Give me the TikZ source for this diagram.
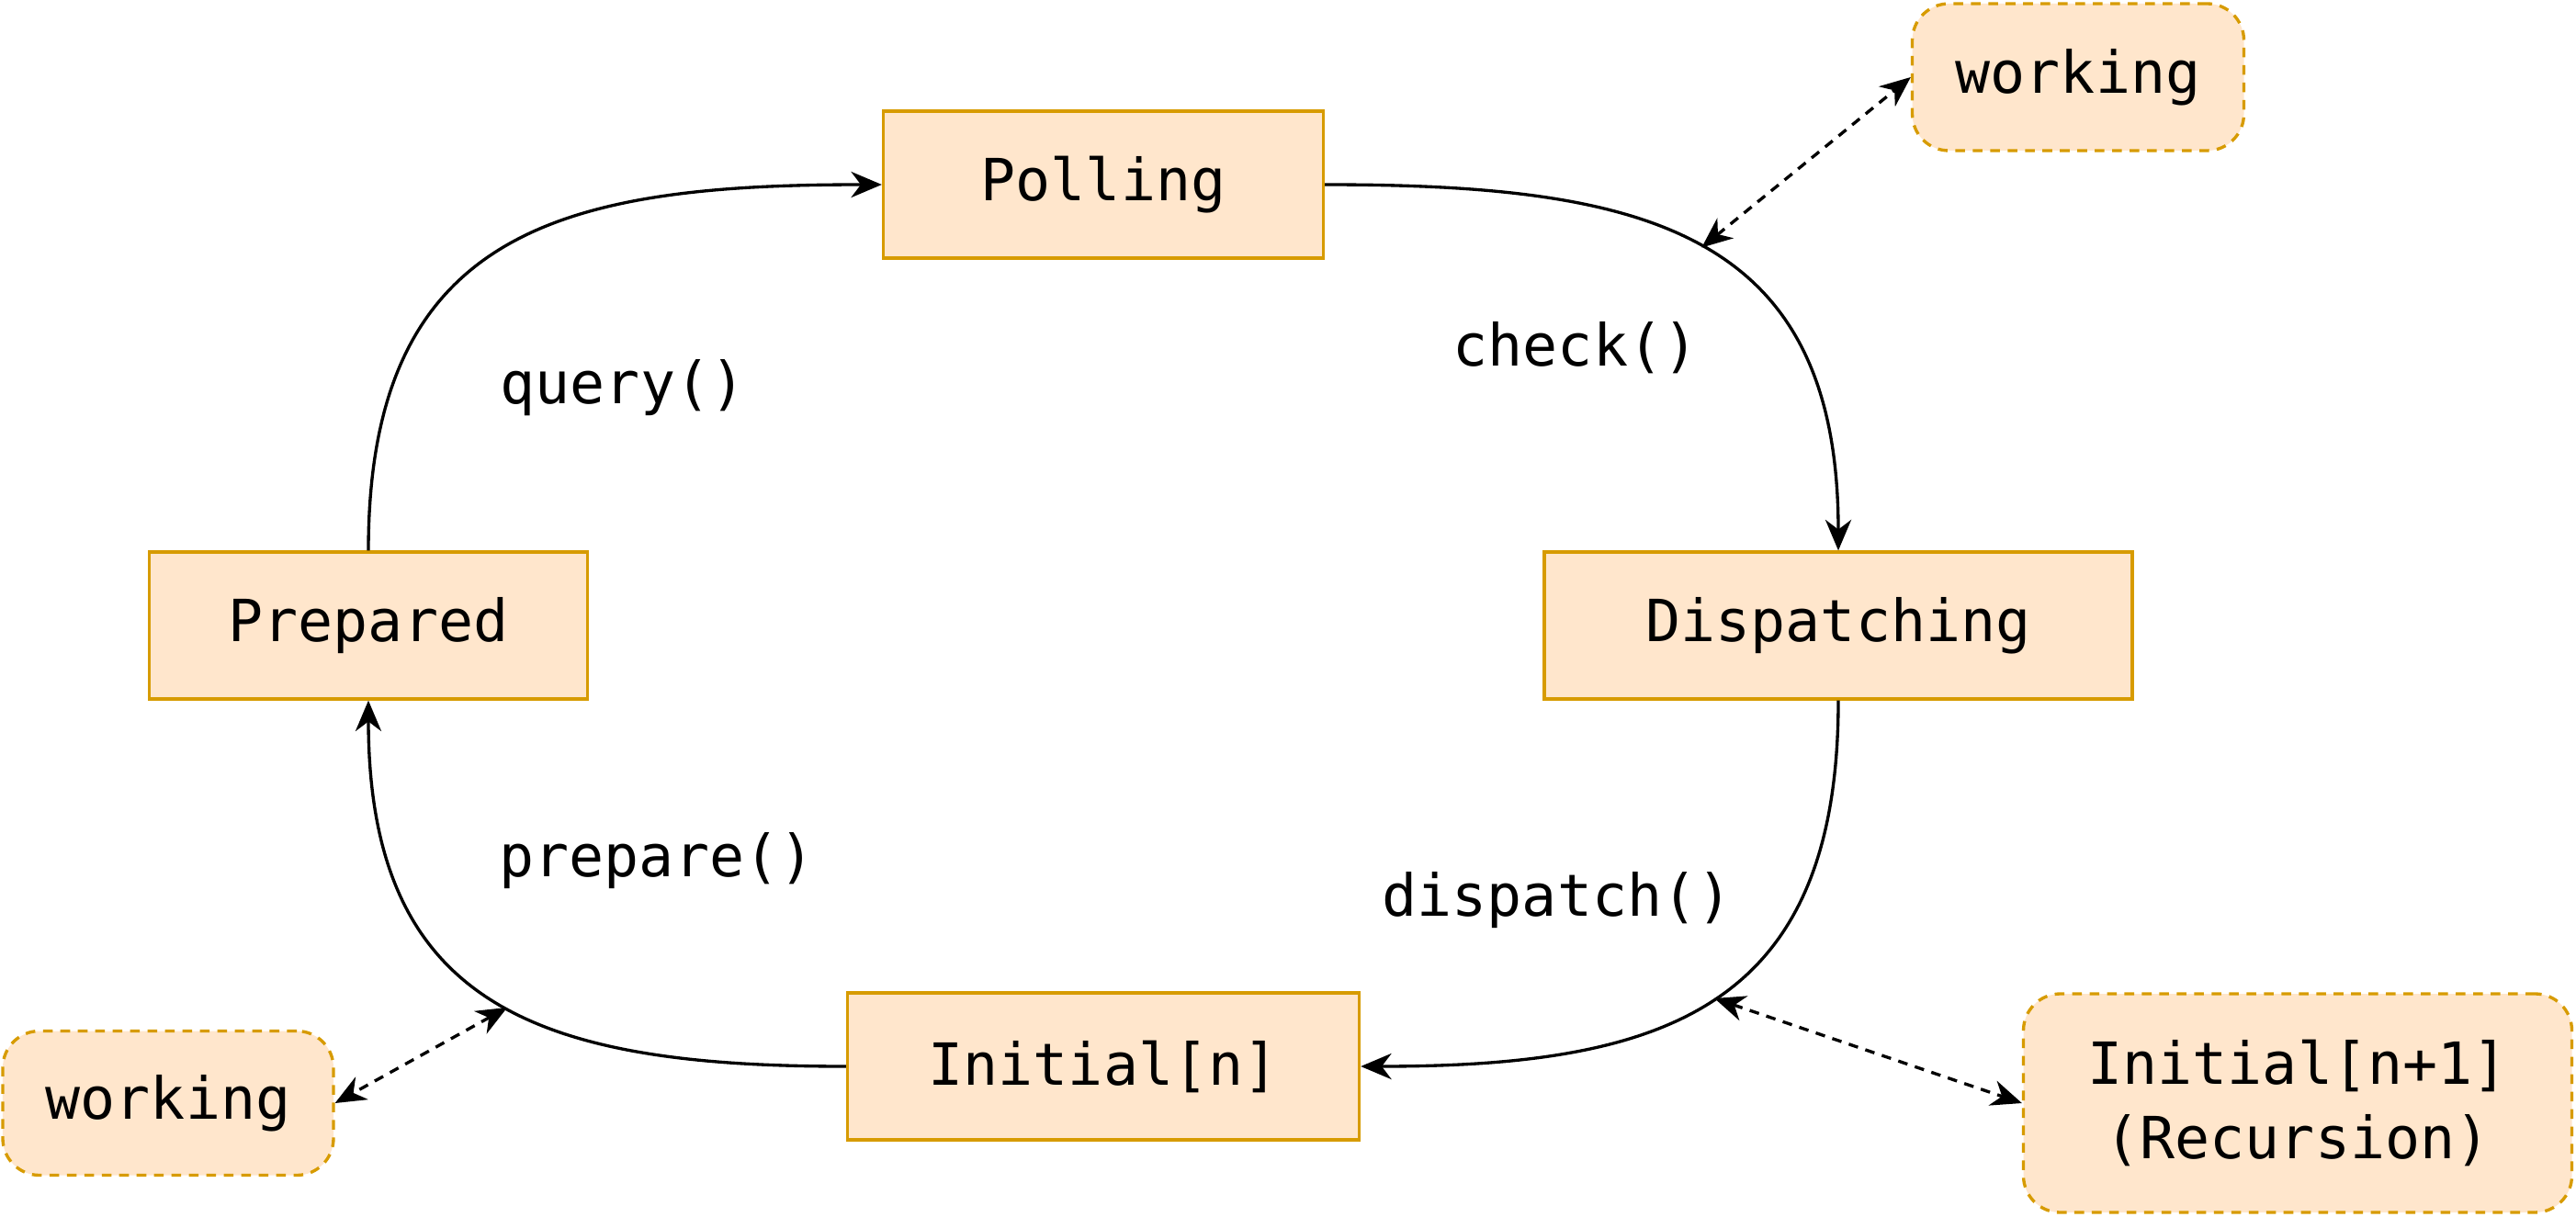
\documentclass[tikz,border=0pt]{standalone}
\usepackage{fontspec}
\setmonofont{DejaVu Sans Mono}
\usetikzlibrary{arrows.meta}
\definecolor{boxfill}{HTML}{FFE6CC}
\definecolor{boxline}{HTML}{D79B00}
\begin{document}
\begin{tikzpicture}[
      every node/.style = {font=\ttfamily\fontsize{18}{23}\selectfont, align=center},
      state/.style = {shape=rectangle, draw=boxline, fill=boxfill, line width=0.95pt,
        minimum height=1.6cm},
      side/.style = {shape=rectangle, rounded corners=0.4cm, draw=boxline, fill=boxfill,
        line width=0.95pt, dash pattern=on 3pt off 2.4pt},
      flow/.style = {line width=0.95pt, -{Stealth[length=9.5pt,width=8pt,inset=3pt]}},
      link/.style = {line width=0.95pt, dash pattern=on 3pt off 2.4pt,
        {Stealth[length=9.5pt,width=8pt,inset=3pt]}-{Stealth[length=9.5pt,width=8pt,inset=3pt]}}]
    \useasboundingbox (0,0) rectangle (28.04,13.24);
    % loop states
    \node[state, minimum width=4.79cm] (polling) at (12.01,11.23) {Polling};
    \node[state, minimum width=6.40cm] (dispatching) at (20.01,6.43) {Dispatching};
    \node[state, minimum width=4.77cm] (prepared) at (4.01,6.43) {Prepared};
    \node[state, minimum width=5.57cm] (initial) at (12.01,1.63) {Initial[n]};
    % side boxes
    \node[side, minimum width=3.61cm, minimum height=1.60cm] (worktop) at (22.62,12.40) {working};
    \node[side, minimum width=3.60cm, minimum height=1.57cm] (workbot) at (1.83,1.23) {working};
    \node[side, minimum width=5.97cm, minimum height=2.38cm] (nextinit) at (25.01,1.23) {Initial[n+1]\\(Recursion)};
    % transitions
    \draw[flow] (polling.east) to[out=0, in=90, looseness=1.3]
      coordinate[pos=0.5] (checkpt) (dispatching.north);
    \draw[flow] (dispatching.south) to[out=-90, in=0, looseness=1.3]
      coordinate[pos=0.5] (dispatchpt) (initial.east);
    \draw[flow] (initial.west) to[out=180, in=-90, looseness=1.3]
      coordinate[pos=0.47] (preparept) (prepared.south);
    \draw[flow] (prepared.north) to[out=90, in=180, looseness=1.3] (polling.west);
    % labels
    \node (query) at (6.78,9.02) {query()};
    \node (check) at (17.15,9.45) {check()};
    \node (prepare) at (7.15,3.87) {prepare()};
    \node (dispatch) at (16.95,3.44) {dispatch()};
    % side links
    \draw[link] (checkpt) -- (worktop.west);
    \draw[link] (dispatchpt) -- (nextinit.west);
    \draw[link] (preparept) -- (workbot.east);
\end{tikzpicture}
\end{document}
